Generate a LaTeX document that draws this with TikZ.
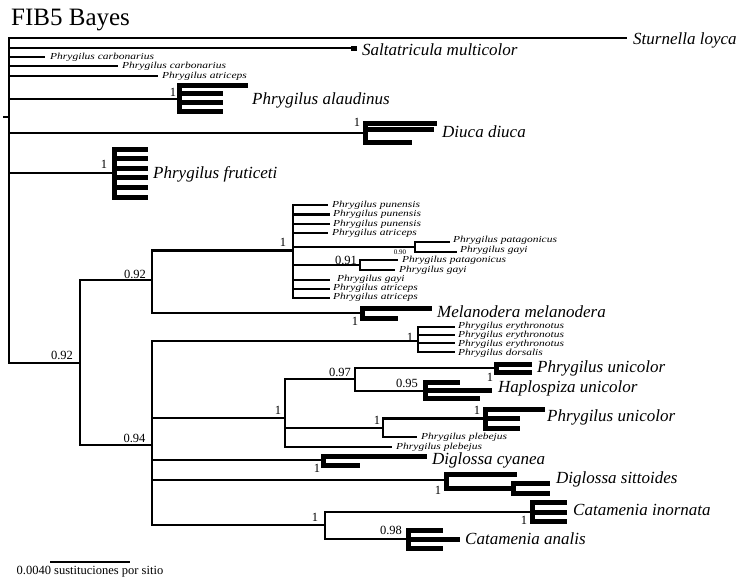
\documentclass[tikz,border=0pt]{standalone}
\usepackage{fontspec}
\usepackage{graphicx}
\setmainfont{Liberation Serif}
% small tip names are set slightly condensed in height
\newcommand{\tipname}[1]{\scalebox{1}[0.8]{#1}}
\begin{document}
\begin{tikzpicture}[x=1pt,y=-1pt,
  br/.style={line width=2.8pt,line join=miter},
  thk/.style={line width=5pt,line join=miter},
  sm/.style={anchor=west,inner sep=0pt,font=\fontsize{11.5}{12}\selectfont\itshape},
  lg/.style={anchor=west,inner sep=0pt,font=\fontsize{17}{18}\selectfont\itshape},
  sup/.style={inner sep=0pt,font=\fontsize{12.5}{13}\selectfont},
]
\useasboundingbox (0,0) rectangle (739,584);

\node[anchor=base west,inner sep=0pt,font=\fontsize{25}{28}\selectfont] (title) at (11,25) {FIB5 Bayes};

% ---- node positions ----
\coordinate (stub) at (3,117);
\coordinate (root) at (9,117);
\coordinate (stur) at (627,38);
\coordinate (salt) at (357,48);
\coordinate (carbA) at (45,57);
\coordinate (carbB) at (118,66);
\coordinate (atrA) at (158,76);
% alaudinus
\coordinate (alN) at (179,99);
\coordinate (al1) at (248,85);
\coordinate (al2) at (223,93.5);
\coordinate (al3) at (223,102.5);
\coordinate (al4) at (223,111);
% Diuca
\coordinate (diN) at (365,133);
\coordinate (di1) at (437,123);
\coordinate (di2) at (434,129.5);
\coordinate (di3) at (412,142);
% fruticeti
\coordinate (frN) at (114,173);
\foreach \i/\y in {1/149,2/158.6,3/168.2,4/177.8,5/187.4,6/197}
  \coordinate (fr\i) at (148,\y);
% main ingroup
\coordinate (big) at (80,363);
\coordinate (A) at (152,280);
\coordinate (B) at (152,445);
% punensis group
\coordinate (P) at (293,250.5);
\coordinate (pu1) at (328,205);
\coordinate (pu2) at (330,214.5);
\coordinate (pu3) at (330,224);
\coordinate (at1) at (328,233);
\coordinate (Q) at (415,247);
\coordinate (pa1) at (450,242);
\coordinate (ga2) at (457,252);
\coordinate (R) at (360,265);
\coordinate (pa2) at (398,260);
\coordinate (ga3) at (395,270);
\coordinate (ga1) at (330,280);
\coordinate (at2) at (330,289);
\coordinate (at3) at (330,298);
% Melanodera
\coordinate (Mel) at (362,313);
\coordinate (me1) at (432,308);
\coordinate (me2) at (398,318);
% erythronotus
\coordinate (E) at (418,341);
\foreach \i/\y in {1/327,2/335,3/343,4/352}
  \coordinate (er\i) at (455,\y);
% unicolor / Haplospiza / plebejus
\coordinate (F) at (285,418);
\coordinate (J) at (355,379);
\coordinate (L) at (496,368);
\coordinate (un1) at (532,364);
\coordinate (un2) at (532,372);
\coordinate (M) at (425,391);
\coordinate (ha1) at (460,382);
\coordinate (ha2) at (492,390);
\coordinate (ha3) at (480,398);
\coordinate (K) at (383,428);
\coordinate (N) at (485,418.5);
\coordinate (un3) at (545,409);
\coordinate (un4) at (520,418.5);
\coordinate (un5) at (520,428);
\coordinate (pl1) at (417,437);
\coordinate (pl2) at (392,447);
% Diglossa
\coordinate (G) at (323,460);
\coordinate (cy1) at (427,456);
\coordinate (cy2) at (360,465);
\coordinate (H) at (446,480);
\coordinate (si1) at (517,474);
\coordinate (O) at (513,488);
\coordinate (si2) at (550,483);
\coordinate (si3) at (550,493);
% Catamenia
\coordinate (I) at (325,525);
\coordinate (S) at (532,512);
\foreach \i/\y in {1/502,2/512,3/521}
  \coordinate (in\i) at (567,\y);
\coordinate (T) at (408,539);
\coordinate (an1) at (443,530);
\coordinate (an2) at (460,539);
\coordinate (an3) at (443,548);

% ---- branches ----
\draw[br] (stub) -- (root);
\foreach \c in {stur,salt,carbA,carbB,atrA,alN,diN,frN,big}
  \draw[br] (root) |- (\c);
\draw[thk] ([xshift=-6pt]salt) -- (salt);
\foreach \c in {al1,al2,al3,al4} \draw[thk] (alN) |- (\c);
\foreach \c in {di1,di2,di3} \draw[thk] (diN) |- (\c);
\foreach \i in {1,...,6} \draw[thk] (frN) |- (fr\i);
\foreach \c in {A,B} \draw[br] (big) |- (\c);
\foreach \c in {P,Mel} \draw[br] (A) |- (\c);
\foreach \c in {pu1,pu2,pu3,at1,Q,R,ga1,at2,at3} \draw[br] (P) |- (\c);
\foreach \c in {pa1,ga2} \draw[br] (Q) |- (\c);
\foreach \c in {pa2,ga3} \draw[br] (R) |- (\c);
\foreach \c in {me1,me2} \draw[thk] (Mel) |- (\c);
\foreach \c in {E,F,G,H,I} \draw[br] (B) |- (\c);
\foreach \i in {1,...,4} \draw[br] (E) |- (er\i);
\foreach \c in {J,K,pl2} \draw[br] (F) |- (\c);
\foreach \c in {L,M} \draw[br] (J) |- (\c);
\foreach \c in {un1,un2} \draw[thk] (L) |- (\c);
\foreach \c in {ha1,ha2,ha3} \draw[thk] (M) |- (\c);
\foreach \c in {N,pl1} \draw[br] (K) |- (\c);
\foreach \c in {un3,un4,un5} \draw[thk] (N) |- (\c);
\foreach \c in {cy1,cy2} \draw[thk] (G) |- (\c);
\foreach \c in {si1,O} \draw[thk] (H) |- (\c);
\foreach \c in {si2,si3} \draw[thk] (O) |- (\c);
\foreach \c in {S,T} \draw[br] (I) |- (\c);
\foreach \i in {1,2,3} \draw[thk] (S) |- (in\i);
\foreach \c in {an1,an2,an3} \draw[thk] (T) |- (\c);

% ---- taxon labels ----
\node[lg] (tSturnella) at (633,40) {Sturnella loyca};
\node[lg] (tSalt) at (362,50) {Saltatricula multicolor};
\node[sm] (tCarbA) at (50,57) {\tipname{Phrygilus carbonarius}};
\node[sm] (tCarbB) at (122,66) {\tipname{Phrygilus carbonarius}};
\node[sm] (tAtrA) at (162,76) {\tipname{Phrygilus atriceps}};
\node[lg] (tAlau) at (252,100) {Phrygilus alaudinus};
\node[lg] (tDiuca) at (442,132) {Diuca diuca};
\node[lg] (tFrut) at (153,174) {Phrygilus fruticeti};
\node[sm] (tPu1) at (332,205) {\tipname{Phrygilus punensis}};
\node[sm] (tPu2) at (333,214.5) {\tipname{Phrygilus punensis}};
\node[sm] (tPu3) at (333,224) {\tipname{Phrygilus punensis}};
\node[sm] (tAt1) at (332,233) {\tipname{Phrygilus atriceps}};
\node[sm] (tPa1) at (453,240.5) {\tipname{Phrygilus patagonicus}};
\node[sm] (tGa2) at (460,250.5) {\tipname{Phrygilus gayi}};
\node[sm] (tPa2) at (402,260.5) {\tipname{Phrygilus patagonicus}};
\node[sm] (tGa3) at (399,270.5) {\tipname{Phrygilus gayi}};
\node[sm] (tGa1) at (337,279) {\tipname{Phrygilus gayi}};
\node[sm] (tAt2) at (333,288.5) {\tipname{Phrygilus atriceps}};
\node[sm] (tAt3) at (333,297.5) {\tipname{Phrygilus atriceps}};
\node[lg] (tMel) at (437,312) {Melanodera melanodera};
\node[sm] (tEr1) at (458,326) {\tipname{Phrygilus erythronotus}};
\node[sm] (tEr2) at (458,335) {\tipname{Phrygilus erythronotus}};
\node[sm] (tEr3) at (458,344) {\tipname{Phrygilus erythronotus}};
\node[sm] (tDor) at (458,353) {\tipname{Phrygilus dorsalis}};
\node[lg] (tUn1) at (537,368) {Phrygilus unicolor};
\node[lg] (tHap) at (498,388) {Haplospiza unicolor};
\node[lg] (tUn2) at (547,417) {Phrygilus unicolor};
\node[sm] (tPl1) at (421,437) {\tipname{Phrygilus plebejus}};
\node[sm] (tPl2) at (396,447) {\tipname{Phrygilus plebejus}};
\node[lg] (tCya) at (432,460) {Diglossa cyanea};
\node[lg] (tSit) at (556,479) {Diglossa sittoides};
\node[lg] (tIno) at (573,510) {Catamenia inornata};
\node[lg] (tAna) at (465,539) {Catamenia analis};

% ---- posterior probabilities ----
\node[sup] (sAl) at (173,92) {1};
\node[sup] (sDi) at (357,122) {1};
\node[sup] (sFr) at (104,164) {1};
\node[sup] (sA) at (135,274) {0.92};
\node[sup] (sBig) at (62,355) {0.92};
\node[sup] (sP) at (283,242) {1};
\node[inner sep=0pt,font=\fontsize{7}{8}\selectfont] (sQ) at (400,252) {0.90};
\node[sup] (sR) at (346,260) {0.91};
\node[sup] (sMel) at (355,321) {1};
\node[sup] (sE) at (410,337) {1};
\node[sup] (sB) at (134.5,438) {0.94};
\node[sup] (sF) at (278,410) {1};
\node[sup] (sJ) at (340,372) {0.97};
\node[sup] (sL) at (490,377) {1};
\node[sup] (sM) at (407,383) {0.95};
\node[sup] (sK) at (377,420) {1};
\node[sup] (sN) at (477,410) {1};
\node[sup] (sG) at (317,468) {1};
\node[sup] (sH) at (438,490) {1};
\node[sup] (sI) at (315,517) {1};
\node[sup] (sS) at (524,520) {1};
\node[sup] (sT) at (391,530) {0.98};

% ---- scale bar ----
\coordinate (sb1) at (50,562);
\coordinate (sb2) at (130,562);
\draw[br] (sb1) -- (sb2);
\node[inner sep=0pt,font=\fontsize{12.5}{13}\selectfont] (sbText) at (90,572) {0.0040 sustituciones por sitio};
\end{tikzpicture}
\end{document}
